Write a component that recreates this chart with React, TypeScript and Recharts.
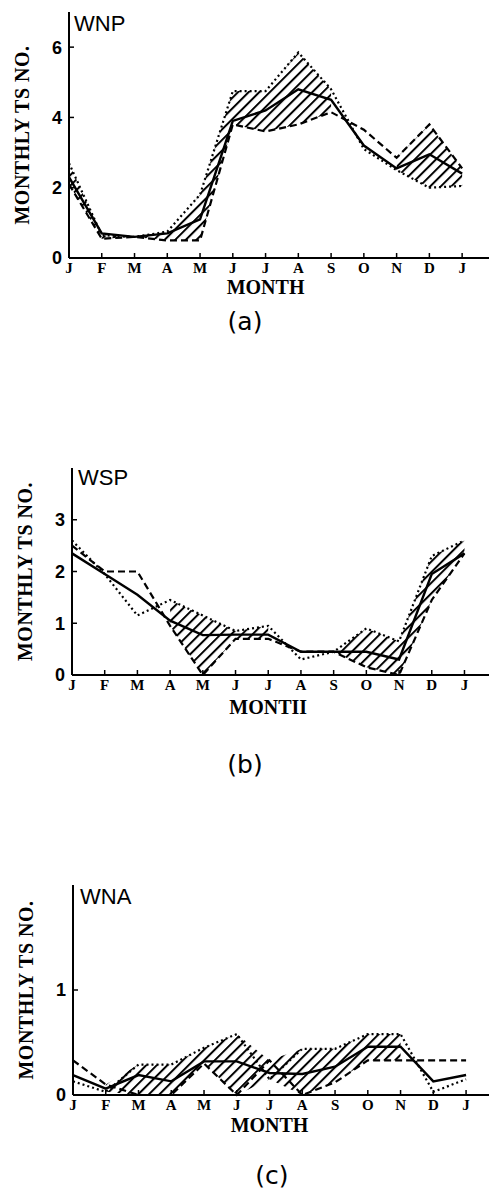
import React from 'react';
import { ComposedChart, Line, Area, XAxis, YAxis, Label } from 'recharts';

const months = ['J', 'F', 'M', 'A', 'M', 'J', 'J', 'A', 'S', 'O', 'N', 'D', 'J'];

// (a) WNP
const wnpSolid = [2.3, 0.7, 0.6, 0.7, 1.1, 3.9, 4.2, 4.8, 4.5, 3.2, 2.55, 2.95, 2.4];
const wnpDashed = [2.1, 0.55, 0.6, 0.5, 0.5, 3.8, 3.6, 3.8, 4.15, 3.65, 2.85, 3.8, 2.55];
const wnpDotted = [2.7, 0.65, 0.6, 0.75, 1.8, 4.75, 4.75, 5.85, 4.8, 3.1, 2.5, 2.0, 2.05];
const wnpHatched = [1, 1, 1, 1, 1, 1, 1, 1, 1, 0, 1, 1, 1];
const wnpTicks = [0, 2, 4, 6];

// (b) WSP
const wspSolid = [2.35, 1.95, 1.55, 1.05, 0.77, 0.78, 0.78, 0.45, 0.45, 0.45, 0.3, 1.95, 2.35];
const wspDashed = [2.5, 2.0, 2.0, 0.95, 0.0, 0.7, 0.7, 0.45, 0.45, 0.15, 0.0, 1.45, 2.35];
const wspDotted = [2.6, 1.95, 1.15, 1.45, 1.15, 0.85, 0.95, 0.3, 0.45, 0.9, 0.65, 2.3, 2.6];
const wspHatched = [0, 0, 0, 1, 1, 1, 1, 0, 1, 1, 1, 1, 1];
const wspTicks = [0, 1, 2, 3];

// (c) WNA
const wnaSolid = [0.19, 0.06, 0.19, 0.13, 0.32, 0.32, 0.21, 0.2, 0.27, 0.46, 0.46, 0.13, 0.19];
const wnaDashed = [0.33, 0.1, 0.0, 0.0, 0.3, 0.0, 0.33, 0.0, 0.12, 0.33, 0.33, 0.33, 0.33];
const wnaDotted = [0.13, 0.03, 0.29, 0.29, 0.45, 0.58, 0.15, 0.44, 0.44, 0.58, 0.58, 0.03, 0.15];
const wnaHatched = [0, 1, 1, 1, 1, 1, 1, 1, 1, 1, 1, 0, 0];
const wnaTicks = [0, 1];

const monthTicks = months.map((_, i) => i);

type PanelProps = {
  id: string;
  title: string;
  xLabel: string;
  top: number;
  height: number;
  mTop: number;
  mBottom: number;
  mLeft: number;
  xMax: number;
  yMax: number;
  yTicks: number[];
  solid: number[];
  dashed: number[];
  dotted: number[];
  hatched: number[];
  titleDx: number;
  titleDy: number;
  xLabelDy: number;
};

const serif = '"Liberation Serif", "DejaVu Serif", serif';
const sans = '"Liberation Sans", Arial, sans-serif';

function Panel(p: PanelProps) {
  const data = months.map((m, i) => ({
    x: i,
    solid: p.solid[i],
    dashed: p.dashed[i],
    dotted: p.dotted[i],
    hatch: p.hatched[i]
      ? [Math.min(p.dashed[i], p.dotted[i]), Math.max(p.dashed[i], p.dotted[i])]
      : null,
  }));
  const plotLeft = p.mLeft;
  return (
    <div style={{ position: 'absolute', left: 0, top: p.top, width: 489, height: p.height }}>
      <ComposedChart
        width={489}
        height={p.height}
        data={data}
        margin={{ top: p.mTop, right: 0, bottom: p.mBottom - 2, left: plotLeft - 2 }}
      >
        <defs>
          <pattern
            id={p.id}
            patternUnits="userSpaceOnUse"
            width="7.5"
            height="7.5"
            patternTransform="rotate(45)"
          >
            <line x1="1" y1="0" x2="1" y2="7.5" stroke="#000" strokeWidth="2" />
          </pattern>
        </defs>
        <XAxis
          type="number"
          dataKey="x"
          domain={[0, p.xMax]}
          ticks={monthTicks}
          interval={0}
          tickFormatter={(v: number) => months[v]}
          height={2}
          axisLine={{ stroke: '#000', strokeWidth: 2 }}
          tickLine={{ stroke: '#000', strokeWidth: 1.5 }}
          tickSize={-5}
          tickMargin={9}
          tick={{ fill: '#000', fontSize: 15, fontWeight: 'bold', fontFamily: serif }}
        >
          <Label
            content={(lp: any) => {
              const vb = lp.viewBox || {};
              return (
                <text
                  x={vb.x + (vb.width * 6) / p.xMax}
                  y={vb.y + p.xLabelDy}
                  textAnchor="middle"
                  dominantBaseline="central"
                  fontFamily={serif}
                  fontWeight="bold"
                  fontSize={20}
                  fill="#000"
                >
                  {p.xLabel}
                </text>
              );
            }}
          />
        </XAxis>
        <YAxis
          type="number"
          domain={[0, p.yMax]}
          ticks={p.yTicks}
          width={2}
          axisLine={{ stroke: '#000', strokeWidth: 2 }}
          tickLine={{ stroke: '#000', strokeWidth: 1.5 }}
          tickSize={-5}
          tickMargin={12}
          tick={{ fill: '#000', fontSize: 18, fontWeight: 'bold', fontFamily: sans }}
        >
          <Label
            content={(lp: any) => {
              const vb = lp.viewBox || {};
              const ax = vb.x + vb.width;
              const cx = ax - 47;
              const cy = vb.y + vb.height / 2;
              return (
                <g>
                  <text
                    x={cx}
                    y={cy}
                    transform={`rotate(-90 ${cx} ${cy})`}
                    textAnchor="middle"
                    dominantBaseline="central"
                    fontFamily={serif}
                    fontWeight="bold"
                    fontSize={20}
                    letterSpacing={0.5}
                    fill="#000"
                  >
                    MONTHLY TS NO.
                  </text>
                  <text
                    x={ax + p.titleDx}
                    y={vb.y + p.titleDy}
                    fontFamily={sans}
                    fontSize={22}
                    fill="#000"
                  >
                    {p.title}
                  </text>
                </g>
              );
            }}
          />
        </YAxis>
        <Area
          type="linear"
          dataKey="hatch"
          fill={`url(#${p.id})`}
          fillOpacity={1}
          stroke="none"
          connectNulls={false}
          isAnimationActive={false}
          dot={false}
          activeDot={false}
        />
        <Line
          type="linear"
          dataKey="dashed"
          stroke="#000"
          strokeWidth={2.2}
          strokeDasharray="7 4"
          dot={false}
          activeDot={false}
          isAnimationActive={false}
        />
        <Line
          type="linear"
          dataKey="dotted"
          stroke="#000"
          strokeWidth={2.2}
          strokeDasharray="2 3"
          dot={false}
          activeDot={false}
          isAnimationActive={false}
        />
        <Line
          type="linear"
          dataKey="solid"
          stroke="#000"
          strokeWidth={2.4}
          dot={false}
          activeDot={false}
          isAnimationActive={false}
        />
      </ComposedChart>
    </div>
  );
}

const captionStyle = (top: number, cx: number): React.CSSProperties => ({
  position: 'absolute',
  top,
  left: cx - 40,
  width: 80,
  textAlign: 'center',
  fontFamily: '"DejaVu Sans", sans-serif',
  fontSize: 25,
  lineHeight: '30px',
  color: '#000',
});

export default function App() {
  return (
    <div
      style={{
        position: 'absolute',
        left: 0,
        top: 0,
        width: 489,
        height: 1192,
        background: '#fff',
        overflow: 'hidden',
      }}
    >
      <Panel
        id="hatchA"
        title="WNP"
        xLabel="MONTH"
        top={0}
        height={300}
        mTop={12}
        mBottom={42}
        mLeft={69}
        xMax={12.82}
        yMax={7}
        yTicks={wnpTicks}
        solid={wnpSolid}
        dashed={wnpDashed}
        dotted={wnpDotted}
        hatched={wnpHatched}
        titleDx={5}
        titleDy={18.5}
        xLabelDy={29}
      />
      <div style={captionStyle(307, 245)}>(a)</div>
      <Panel
        id="hatchB"
        title="WSP"
        xLabel="MONTII"
        top={440}
        height={300}
        mTop={28}
        mBottom={65}
        mLeft={72}
        xMax={12.75}
        yMax={4}
        yTicks={wspTicks}
        solid={wspSolid}
        dashed={wspDashed}
        dotted={wspDotted}
        hatched={wspHatched}
        titleDx={6}
        titleDy={17}
        xLabelDy={32}
      />
      <div style={captionStyle(750, 245)}>(b)</div>
      <Panel
        id="hatchC"
        title="WNA"
        xLabel="MONTH"
        top={860}
        height={300}
        mTop={25}
        mBottom={65}
        mLeft={73}
        xMax={12.7}
        yMax={2}
        yTicks={wnaTicks}
        solid={wnaSolid}
        dashed={wnaDashed}
        dotted={wnaDotted}
        hatched={wnaHatched}
        titleDx={7}
        titleDy={19}
        xLabelDy={30}
      />
      <div style={captionStyle(1161, 272)}>(c)</div>
    </div>
  );
}
